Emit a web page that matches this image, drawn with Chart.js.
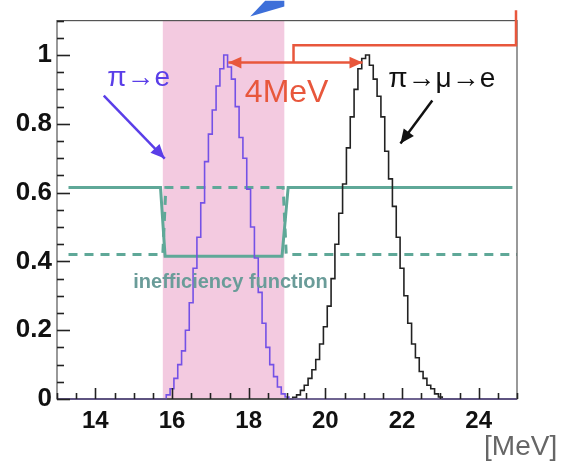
<!DOCTYPE html>
<html>
<head>
<meta charset="utf-8">
<script src="https://cdn.jsdelivr.net/npm/chart.js@4.4.0/dist/chart.umd.min.js"></script>
<style>
  html, body { margin: 0; padding: 0; background: #fff; }
</style>
</head>
<body>
<canvas id="hist" width="564" height="462"></canvas>
<script>
// pi -> e spectrum, 0.1 MeV bins, first bin centre 15.8
const binWidth = 0.1;
const peStart = 15.8;
const peValues = [0, 0.012, 0.03, 0.06, 0.1, 0.14, 0.2, 0.28, 0.38, 0.47, 0.57, 0.69, 0.77, 0.84,
  0.91, 0.96, 1.0, 0.965, 0.93, 0.85, 0.76, 0.7, 0.61, 0.5, 0.41, 0.31, 0.22, 0.15, 0.1,
  0.065, 0.035, 0.015, 0.006, 0];
// pi -> mu -> e spectrum, first bin centre 19.1
const pmeStart = 19.1;
const pmeValues = [0, 0.005, 0.012, 0.025, 0.04, 0.06, 0.085, 0.115, 0.16, 0.21, 0.27, 0.35, 0.45,
  0.54, 0.625, 0.73, 0.82, 0.9, 0.96, 0.99, 1.0, 0.97, 0.93, 0.88, 0.82, 0.72, 0.64, 0.56, 0.47,
  0.38, 0.3, 0.22, 0.16, 0.12, 0.08, 0.06, 0.04, 0.03, 0.015, 0.006, 0];

// inefficiency function (solid) and the dashed complement
const ineffX = [13.3, 15.7, 15.82, 18.87, 19.03, 24.88];
const ineffY = [0.615, 0.615, 0.415, 0.415, 0.615, 0.615];
const complX = [13.3, 15.76, 15.84, 18.9, 18.98, 25];
const complY = [0.42, 0.42, 0.615, 0.615, 0.42, 0.42];

const band = [15.76, 18.93];
const xTicks = [14, 16, 18, 20, 22, 24];
const yTicks = [0, 0.2, 0.4, 0.6, 0.8, 1];
const xMinorStep = 0.5;
const yMinorStep = 0.05;

const FONT = "'Liberation Sans', Arial, Helvetica, sans-serif";
const TEAL = '#5fa898';

function histPoints(start, values) {
  const pts = [{x: 13, y: 0}];
  values.forEach((v, i) => pts.push({x: +(start + i * binWidth).toFixed(2), y: v}));
  pts.push({x: 25, y: 0});
  return pts;
}
function linePoints(xs, ys) {
  return xs.map((x, i) => ({x: x, y: ys[i]}));
}

function arrow(ctx, x1, y1, x2, y2, color, width, head, both) {
  ctx.save();
  ctx.strokeStyle = color;
  ctx.fillStyle = color;
  ctx.lineWidth = width;
  ctx.beginPath();
  ctx.moveTo(x1, y1);
  ctx.lineTo(x2, y2);
  ctx.stroke();
  const tip = (tx, ty, fx, fy) => {
    const a = Math.atan2(ty - fy, tx - fx);
    ctx.beginPath();
    ctx.moveTo(tx, ty);
    ctx.lineTo(tx - head * Math.cos(a) + head * 0.45 * Math.sin(a), ty - head * Math.sin(a) - head * 0.45 * Math.cos(a));
    ctx.lineTo(tx - head * Math.cos(a) - head * 0.45 * Math.sin(a), ty - head * Math.sin(a) + head * 0.45 * Math.cos(a));
    ctx.closePath();
    ctx.fill();
  };
  tip(x2, y2, x1, y1);
  if (both) tip(x1, y1, x2, y2);
  ctx.restore();
}

const bandPlugin = {
  id: 'band',
  beforeDatasetsDraw(chart) {
    const {ctx, chartArea: a, scales: {x}} = chart;
    ctx.save();
    ctx.fillStyle = '#f3cae0';
    const l = x.getPixelForValue(band[0]), r = x.getPixelForValue(band[1]);
    ctx.fillRect(l, a.top, r - l, a.bottom - a.top);
    ctx.restore();
  }
};

// ROOT-like frame with inward ticks
const framePlugin = {
  id: 'frame',
  afterDraw(chart) {
    const {ctx, chartArea: a} = chart;
    const x = chart.scales.x, y = chart.scales.y;
    ctx.save();
    ctx.strokeStyle = '#555';
    ctx.lineWidth = 1.2;
    ctx.strokeRect(a.left, a.top, a.right - a.left, a.bottom - a.top);
    ctx.strokeStyle = '#222';
    ctx.lineWidth = 1.6;
    const nx = Math.round((x.max - x.min) / xMinorStep);
    for (let i = 0; i <= nx; i++) {
      const v = x.min + i * xMinorStep;
      const px = Math.round(x.getPixelForValue(v)) + 0.5;
      const len = xTicks.indexOf(v) >= 0 ? 11 : 6;
      ctx.beginPath();
      ctx.moveTo(px, a.bottom);
      ctx.lineTo(px, a.bottom - len);
      ctx.stroke();
    }
    const ny = Math.round(y.max / yMinorStep);
    for (let i = 0; i <= ny; i++) {
      const v = i * yMinorStep;
      const py = Math.round(y.getPixelForValue(v)) + 0.5;
      const major = yTicks.some(t => Math.abs(t - v) < 1e-6);
      ctx.beginPath();
      ctx.moveTo(a.left, py);
      ctx.lineTo(a.left + (major ? 13 : 7), py);
      ctx.stroke();
    }
    ctx.restore();
  }
};

const notePlugin = {
  id: 'notes',
  afterDraw(chart) {
    const {ctx, chartArea: a, scales: {x, y}} = chart;
    const X = v => x.getPixelForValue(v), Y = v => y.getPixelForValue(v);
    ctx.save();
    // blue fragment at the top edge
    ctx.fillStyle = '#3d6fd9';
    ctx.beginPath();
    ctx.moveTo(X(18.04), Y(1.112));
    ctx.lineTo(X(18.43), Y(1.158));
    ctx.lineTo(X(18.93), Y(1.158));
    ctx.lineTo(X(18.93), Y(1.141));
    ctx.closePath();
    ctx.fill();

    // red 4 MeV marker
    const red = '#e8573c';
    arrow(ctx, X(17.47), Y(0.978), X(20.97), Y(0.978), red, 2.5, 13, true);
    ctx.strokeStyle = red;
    ctx.lineWidth = 2.5;
    ctx.beginPath();
    ctx.moveTo(X(19.17), Y(0.978));
    ctx.lineTo(X(19.17), Y(1.028));
    ctx.lineTo(X(25) - 1, Y(1.028));
    ctx.lineTo(X(25) - 1, Y(1.13));
    ctx.stroke();

    arrow(ctx, X(14.22), Y(0.882), X(15.81), Y(0.699), '#5a3ee8', 2.5, 14, false);
    arrow(ctx, X(22.79), Y(0.868), X(21.96), Y(0.743), '#111', 2.5, 14, false);

    ctx.textBaseline = 'alphabetic';
    ctx.textAlign = 'left';
    ctx.font = '28px ' + FONT;
    ctx.fillStyle = '#5a3ee8';
    ctx.fillText('π→e', X(14.31), Y(0.911));
    ctx.fillStyle = '#111';
    ctx.fillText('π→μ→e', X(21.64), Y(0.906));
    ctx.font = '32px ' + FONT;
    ctx.fillStyle = red;
    ctx.fillText('4MeV', X(17.9), Y(0.862));
    ctx.font = 'bold 20px ' + FONT;
    ctx.fillStyle = '#6a9c99';
    ctx.fillText('inefficiency function', X(14.99), Y(0.322));
    ctx.font = '28px ' + FONT;
    ctx.fillStyle = '#666';
    ctx.fillText('[MeV]', X(24.14), a.bottom + 56);
    ctx.restore();
  }
};

new Chart(document.getElementById('hist'), {
  type: 'line',
  data: {
    datasets: [
      {
        label: 'pi -> e',
        data: histPoints(peStart, peValues),
        borderColor: '#7451e6',
        borderWidth: 1.6,
        stepped: 'middle',
        fill: false,
        clip: 3
      },
      {
        label: 'pi -> mu -> e',
        data: histPoints(pmeStart, pmeValues),
        borderColor: '#222',
        borderWidth: 1.6,
        stepped: 'middle',
        fill: false,
        clip: 3
      },
      {
        label: 'inefficiency',
        data: linePoints(ineffX, ineffY),
        borderColor: TEAL,
        borderWidth: 3,
        fill: false
      },
      {
        label: 'complement',
        data: linePoints(complX, complY),
        borderColor: TEAL,
        borderWidth: 3,
        borderDash: [9, 7],
        fill: false
      }
    ]
  },
  options: {
    responsive: false,
    animation: false,
    devicePixelRatio: 1,
    layout: { padding: { top: 20, right: 47, left: 0, bottom: 0 } },
    elements: { point: { radius: 0 }, line: { tension: 0 } },
    plugins: { legend: { display: false }, tooltip: { enabled: false } },
    scales: {
      x: {
        type: 'linear',
        min: 13,
        max: 25,
        grid: { display: false, drawTicks: false },
        border: { display: false },
        afterBuildTicks: s => { s.ticks = xTicks.map(v => ({value: v})); },
        afterFit: s => { s.height = 63; },
        ticks: {
          autoSkip: false,
          maxRotation: 0,
          padding: 8,
          color: '#111',
          font: { family: FONT, size: 24, weight: 'bold' }
        }
      },
      y: {
        type: 'linear',
        min: 0,
        max: 1.1,
        grid: { display: false, drawTicks: false },
        border: { display: false },
        afterBuildTicks: s => { s.ticks = yTicks.map(v => ({value: v})); },
        afterFit: s => { s.width = 57; },
        ticks: {
          autoSkip: false,
          padding: 5,
          color: '#111',
          callback: v => String(v),
          font: { family: FONT, size: 26, weight: 'bold' }
        }
      }
    }
  },
  plugins: [bandPlugin, framePlugin, notePlugin]
});
</script>
</body>
</html>
